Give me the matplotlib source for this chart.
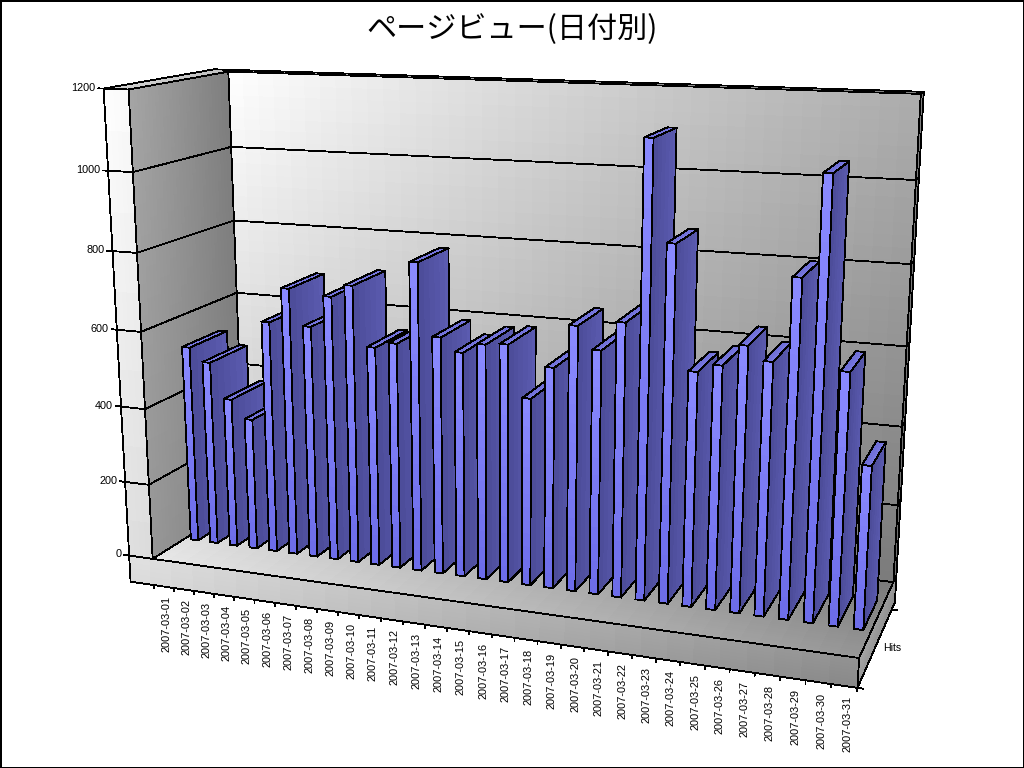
import numpy as np, matplotlib
matplotlib.use('Agg')
import matplotlib.pyplot as plt
from mpl_toolkits.mplot3d import Axes3D
from mpl_toolkits.mplot3d.art3d import Poly3DCollection

dates = ['2007-03-%02d' % d for d in range(1, 32)]
values = [525, 490, 397, 349, 610, 701, 608, 689, 721, 569, 584, 791, 609, 576, 601, 606,
          477, 559, 666, 611, 683, 1116, 877, 580, 600, 652, 619, 818, 1055, 611, 397]
z_ticks = [0, 200, 400, 600, 800, 1000, 1200]
series_name = 'Hits'
title = 'ページビュー(日付別)'

WALL, BACK_T, SLAB = 1.2, 0.1, -72
BX0, BX1, BY0, BY1 = 0.31, 0.69, 0.33, 0.73
n = len(dates)
# camera calibration: scene reference points and where the reference picture shows them
calib = [((0,0,0),(155,558)),((31,0,0),(860,657)),((31,1,0),(893,579)),
 ((0,0,1200),(128.3,89.3)),((0,1,1200),(230,71.7)),((31,1,1200),(921.7,95)),
 ((31,1,1000),(916.7,181)),((0,1,1000),(232.7,146)),((0,0,1000),(132.7,172.3)),
 ((0,0,200),(150.7,484.3)),((0,1,800),(235.7,220)),
 ((BX0,BY0,0),(189.3,541)),((BX1,BY0,0),(196.6,541)),((30+BX0,BY0,0),(853,630.5)),((30+BX1,BY0,0),(862.7,631)),
 ((11+BX0,BY0,0),(412.7,571.7)),((21+BX0,BY0,0),(635.3,601.7)),((21+BX1,BY0,0),(644.3,601.7)),
 ((BX1,BY1,525),(225,331)),((11+BX1,BY1,791),(447.3,247.3)),((21+BX1,BY1,1116),(675.7,127.7)),
 ((BX0,BY0,525),(179.3,347)),((11+BX0,BY0,791),(407.3,261.7)),((21+BX0,BY0,1116),(643.3,137.3)),
 ((0,0,SLAB),(155.7,584)),((31,0,SLAB),(858,686)),((28,0,SLAB),(781.7,675))]
A=[];b=[]
for (X,Y,Z),(u,v) in calib:
    Z=Z/1000
    A.append([X,Y,Z,1,0,0,0,0,-u*X,-u*Y,-u*Z]);b.append(u)
    A.append([0,0,0,0,X,Y,Z,1,-v*X,-v*Y,-v*Z]);b.append(v)
s=np.linalg.lstsq(np.array(A,float),np.array(b,float),rcond=None)[0]
P=np.array([s[:4],s[4:8],list(s[8:11])+[1]])
P[:,2]/=1000

fig = plt.figure(figsize=(10.24,7.68),dpi=100,facecolor='white',edgecolor='black',linewidth=2)
ax = fig.add_axes([0,0,1,1],projection='3d',computed_zorder=False)
ax.apply_aspect = lambda position=None: None
ax.set_axis_off()
ax.patch.set_visible(False)
def get_proj():
    inv = ax.transData.inverted().get_matrix()
    flip = np.array([[1,0,0],[0,-1,768],[0,0,1.]])
    H = inv@flip@P
    return np.vstack([H[0],H[1],[0,0,0,-1],H[2]])
ax.get_proj = get_proj

def gface(c, g, zo=1, ni=30, nj=30):
    c=np.array(c,float)
    g=np.array([matplotlib.colors.to_rgb(x) if isinstance(x,str) else (x/255,)*3 for x in g])
    polys=[];cols=[]
    def q(a,b,m): return (1-a)*(1-b)*m[0]+a*(1-b)*m[1]+a*b*m[2]+(1-a)*b*m[3]
    for i in range(ni):
        for j in range(nj):
            polys.append([q(i/ni,j/nj,c),q((i+1)/ni,j/nj,c),q((i+1)/ni,(j+1)/nj,c),q(i/ni,(j+1)/nj,c)])
            cols.append(tuple(q((i+.5)/ni,(j+.5)/nj,g)))
    col=Poly3DCollection(polys,facecolors=cols,edgecolors=cols,linewidths=0.5,antialiased=False,zorder=zo)
    ax.add_collection3d(col,autolim=False)
LW=0.6
def seg(*p, zo=2, lw=LW):
    p=np.array(p,float)
    ax.plot(p[:,0],p[:,1],p[:,2],color='k',lw=lw,antialiased=False,zorder=zo,solid_capstyle='projecting')
def pixel(X,Y,Z):
    h=P@np.array([X,Y,Z,1.]); return h[0]/h[2],h[1]/h[2]
def label(X,Y,Z,s,**kw):
    u,v=pixel(X,Y,Z)
    fig.text(u/1024,1-v/768,s,**kw)

ZT=z_ticks[-1]; W=-WALL; YB=1+BACK_T
gface([(0,1,ZT),(n,1,ZT),(n,1,0),(0,1,0)],[255,172,122,200],ni=40,nj=40)
gface([(0,0,ZT),(0,1,ZT),(0,1,0),(0,0,0)],[165,125,125,150])
gface([(W,0,ZT),(0,0,ZT),(0,0,0),(W,0,0)],[255,250,218,222],ni=12,nj=12)
gface([(0,0,0),(n,0,0),(n,1,0),(0,1,0)],[232,150,120,205],ni=40,nj=40)
gface([(W,0,0),(n,0,0),(n,0,SLAB),(W,0,SLAB)],[225,145,135,220],ni=30,nj=30)
gface([(n,0,0),(n,YB,0),(n,YB,SLAB),(n,0,SLAB)],[165,150,140,150],ni=8,nj=8)
gface([(n,1,ZT),(n,YB,ZT),(n,YB,0),(n,1,0)],[130,130,110,110],ni=6,nj=6)
gface([(W,0,ZT),(0,0,ZT),(0,1,ZT),(W,YB,ZT)],[215,205,190,200],ni=8,nj=8)
gface([(0,1,ZT),(n,1,ZT),(n,YB,ZT),(0,YB,ZT)],[190,125,125,200],ni=20,nj=4)
for z in z_ticks:
    seg((W-.25,0,z),(W,0,z),(0,0,z),(0,1,z),(n,1,z),(n,YB,z))
    label(W-.4,0,z,str(z),ha='right',va='center',fontsize=7.8,family='Liberation Sans')
seg((W,0,SLAB),(W,0,ZT)); seg((0,0,0),(0,0,ZT)); seg((0,1,0),(0,1,ZT))
seg((n,1,0),(n,1,ZT)); seg((n,YB,SLAB),(n,YB,ZT))
seg((W,0,ZT),(W,YB,ZT),(n,YB,ZT)); seg((0,0,0),(0,1,0),(n,1,0),(n,0,0))
seg((W,0,0),(n,0,0)); seg((W,0,SLAB),(n,0,SLAB),(n,YB,SLAB)); seg((n,0,SLAB),(n,0,0))
for i in range(n+1):
    seg((i,0,SLAB),(i,0,SLAB-8),zo=3)
seg((n,0,SLAB),(n+.2,0,SLAB),zo=3); seg((n,1,SLAB),(n+.2,1,SLAB),zo=3)
faces=['#5050a0','#7272e6','#8484ff','#5050a0','#5050a0','#5252a6']
for i,v in enumerate(values):
    zo=5+i*.01; x0,x1=i+BX0,i+BX1
    ax.bar3d(x0,BY0,0,BX1-BX0,BY1-BY0,v,color=faces,shade=False,edgecolor='k',linewidth=LW,antialiased=False,zorder=zo)
    gface([(x0,BY0,v),(x1,BY0,v),(x1,BY0,0),(x0,BY0,0)],['#8a8aff','#8a8aff','#6c6ce8','#6c6ce8'],zo=zo+.001,ni=1,nj=14)
    gface([(x1,BY0,v),(x1,BY1,v),(x1,BY1,0),(x1,BY0,0)],['#4c4c98','#5c5cb2','#5c5cb2','#4c4c98'],zo=zo+.001,ni=6,nj=1)
    gface([(x0,BY0,v),(x1,BY0,v),(x1,BY1,v),(x0,BY1,v)],['#5858c0','#7070d8','#8080e8','#7878e0'],zo=zo+.001,ni=6,nj=1)
    seg((x0,BY0,0),(x0,BY0,v),(x1,BY0,v),(x1,BY0,0),(x0,BY0,0),zo=zo+.002)
    seg((x0,BY0,v),(x0,BY1,v),(x1,BY1,v),(x1,BY1,0),(x1,BY0,0),zo=zo+.002)
    seg((x1,BY0,v),(x1,BY1,v),zo=zo+.002)
for i,d in enumerate(dates):
    label(i+.62,0,SLAB-24,d,rotation=90,ha='center',va='top',fontsize=7.9,family='Liberation Sans')
label(n+.3,.5,SLAB,series_name,ha='left',va='center',fontsize=7.6,family='Liberation Sans')
fig.text(.5,1-30/768,title,ha='center',va='center',fontsize=21.7,family=['Noto Sans CJK JP','DejaVu Sans'])
fig.savefig('out.png',facecolor='white',edgecolor='black')
